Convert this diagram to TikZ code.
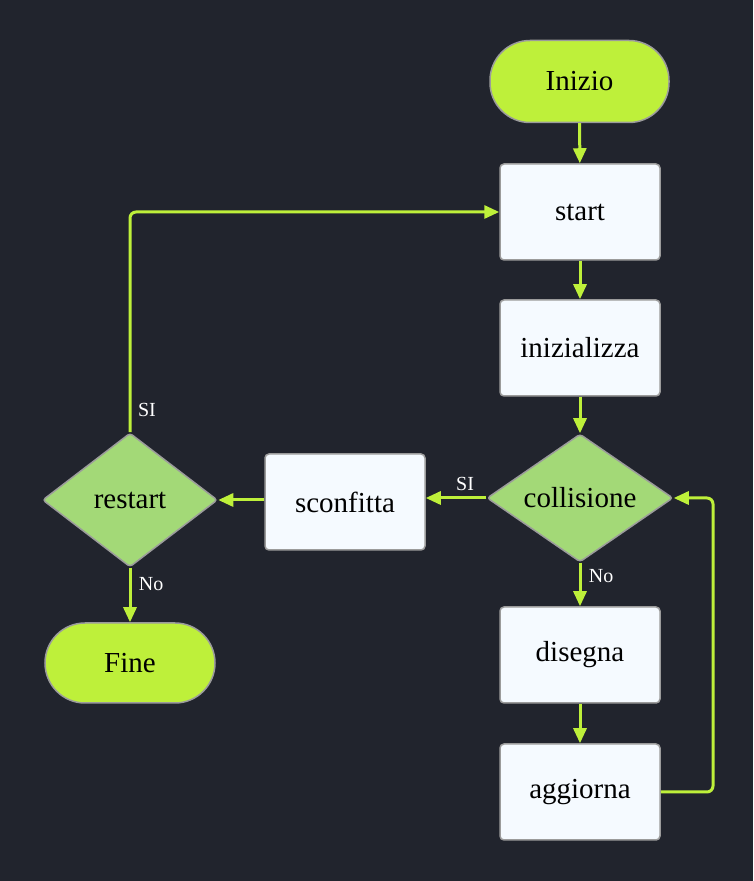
\documentclass[tikz,border=0pt]{standalone}
\usepackage{fontspec}
\setmainfont{Liberation Serif}
\usetikzlibrary{shapes.geometric,arrows.meta}
\definecolor{bg}{RGB}{33,36,45}
\definecolor{lime}{RGB}{190,240,58}
\definecolor{dgreen}{RGB}{163,217,119}
\definecolor{boxfill}{RGB}{245,250,255}
\definecolor{bord}{RGB}{155,155,155}
\begin{document}
\begin{tikzpicture}[x=1pt,y=1pt,
  every node/.style={font=\fontsize{29}{33}\selectfont, text=black},
  term/.style={draw=bord, line width=1.5pt, fill=lime, rounded corners=40pt, minimum height=82pt, inner sep=0},
  procbox/.style={draw=bord, line width=1.5pt, fill=boxfill, rounded corners=4pt, minimum width=160pt, minimum height=96pt, inner sep=0},
  decision/.style={draw=bord, line width=1.5pt, fill=dgreen, diamond, inner sep=0, rounded corners=3pt},
  conn/.style={draw=lime, line width=3pt, -{Triangle[length=15pt,width=13pt]}, rounded corners=6pt},
  lbl/.style={font=\fontsize{20}{22}\selectfont, text=white}
]
\useasboundingbox[fill=bg] (0,0) rectangle (753,881);
\node[term, minimum width=179pt] (inizio) at (579.5,799.5) {Inizio};
\node[procbox] (start) at (580,669) {start};
\node[procbox] (init) at (580,533) {inizializza};
\node[decision, minimum width=186pt, minimum height=128pt, aspect=1.45] (coll) at (580,383) {collisione};
\node[procbox] (sconf) at (345,379) {sconfitta};
\node[decision, minimum width=175pt, minimum height=134pt, aspect=1.3] (restart) at (130,381) {restart};
\node[term, minimum width=170pt, minimum height=80pt] (fine) at (130,218) {Fine};
\node[procbox] (dis) at (580,226) {disegna};
\node[procbox] (agg) at (580,89) {aggiorna};
\coordinate (c1) at (713,89);
\coordinate (c2) at (713,383);
\coordinate (c3) at (130,669);

\draw[conn] (inizio) -- (start);
\draw[conn] (start) -- (init);
\draw[conn] (init) -- (coll);
\draw[conn] (coll) -- node[lbl, above, pos=0.35, yshift=2pt] {SI} (sconf.east |- coll);
\draw[conn] (coll) -- node[lbl, right, pos=0.3, xshift=4pt] {No} (dis);
\draw[conn] (dis) -- (agg);
\draw[conn] (agg.east) -- (c1) -- (c2) -- (coll.east);
\draw[conn] (sconf.west |- restart) -- (restart.east);
\draw[conn] (restart) -- node[lbl, right, pos=0.3, xshift=4pt] {No} (fine);
\draw[conn] (restart.north) -- (c3) -- (start.west);
\node[lbl] (silbl) at (147,471) {SI};
\end{tikzpicture}
\end{document}
